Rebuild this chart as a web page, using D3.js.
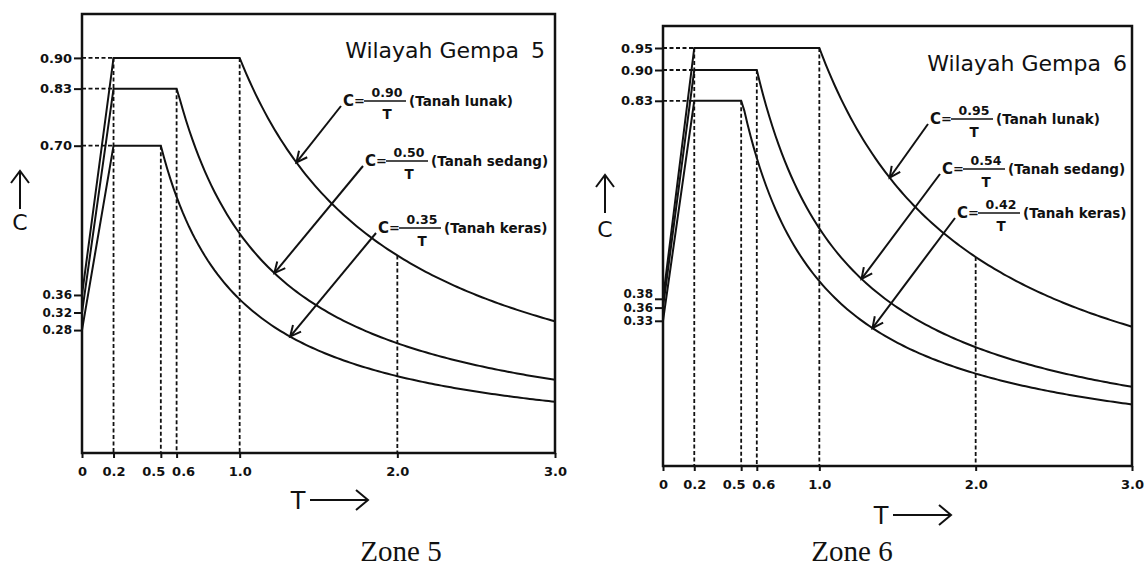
<!DOCTYPE html>
<html>
<head>
<meta charset="utf-8">
<script src="https://cdn.jsdelivr.net/npm/d3@7"></script>
<style>
  body { margin: 0; background: #fff; }
  svg text { fill: #111; }
</style>
</head>
<body>
<script>
var width = 1146, height = 569;

// values
var soils = ["Tanah lunak", "Tanah sedang", "Tanah keras"];
var zoneNames = ["5", "6"];
var peak5 = [0.90, 0.83, 0.70];
var start5 = [0.36, 0.32, 0.28];
var coef5 = [0.90, 0.50, 0.35];
var peak6 = [0.95, 0.90, 0.83];
var start6 = [0.38, 0.36, 0.33];
var coef6 = [0.95, 0.54, 0.42];
var Ta = 0.2;
var Tc = [1.0, 0.6, 0.5];
var Tmark = 2.0;
var Tmax = 3.0;
var xTicks = [0, 0.2, 0.5, 0.6, 1.0, 2.0, 3.0];
var xTickLabels = ["0", "0.2", "0.5", "0.6", "1.0", "2.0", "3.0"];
// T where each label arrow touches its curve
var arrowT5 = [1.36, 1.22, 1.32];
var arrowT6 = [1.45, 1.27, 1.34];

var svg = d3.select("body").append("svg")
    .attr("width", width)
    .attr("height", height);

var panels = [
  { zone: zoneNames[0], peak: peak5, start: start5, coef: coef5, arrowT: arrowT5,
    x0: 82, x1: 555, yb: 453, yt: 14,
    labels: [[261, 86], [283, 146], [296, 213]],
    title: [545, 58], caption: 401, cArrow: [20, 171, 230], tArrow: [298, 500] },
  { zone: zoneNames[1], peak: peak6, start: start6, coef: coef6, arrowT: arrowT6,
    x0: 663, x1: 1132, yb: 466, yt: 26,
    labels: [[267, 92], [279, 142], [294, 186]],
    title: [1127, 71], caption: 852, cArrow: [605, 175, 237], tArrow: [881, 515] }
];

var tickFont = "'DejaVu Sans', sans-serif";

panels.forEach(function(p) {
  var x = d3.scaleLinear().domain([0, Tmax]).range([p.x0, p.x1]);
  var y = d3.scaleLinear().domain([0, 1]).range([p.yb, p.yt]);
  var g = svg.append("g");

  // dashed guide lines
  var dash = g.append("g")
      .attr("stroke", "#111")
      .attr("stroke-width", 1.8)
      .attr("stroke-dasharray", "4,2.5")
      .attr("fill", "none");
  p.peak.forEach(function(v) {
    dash.append("line")
        .attr("x1", x(0)).attr("x2", x(Ta))
        .attr("y1", y(v)).attr("y2", y(v));
  });
  dash.append("line")
      .attr("x1", x(Ta)).attr("x2", x(Ta))
      .attr("y1", y(d3.max(p.peak))).attr("y2", y(0));
  Tc.forEach(function(t, i) {
    dash.append("line")
        .attr("x1", x(t)).attr("x2", x(t))
        .attr("y1", y(p.peak[i])).attr("y2", y(0));
  });
  dash.append("line")
      .attr("x1", x(Tmark)).attr("x2", x(Tmark))
      .attr("y1", y(p.coef[0] / Tmark)).attr("y2", y(0));

  // spectrum curves
  var line = d3.line().x(function(d) { return x(d[0]); }).y(function(d) { return y(d[1]); });
  p.coef.forEach(function(k, i) {
    var pts = [[0, p.start[i]], [Ta, p.peak[i]], [Tc[i], p.peak[i]]];
    d3.range(Tc[i] + 0.02, Tmax + 0.001, 0.02).forEach(function(t) {
      pts.push([t, k / t]);
    });
    g.append("path")
        .attr("d", line(pts))
        .attr("fill", "none")
        .attr("stroke", "#111")
        .attr("stroke-width", 2);
  });

  // axes
  var yAxis = d3.axisLeft(y)
      .tickValues(p.start.concat(p.peak))
      .tickFormat(d3.format(".2f"))
      .tickSize(8)
      .tickPadding(2);
  var ya = g.append("g").attr("transform", "translate(" + x(0) + ",0)").call(yAxis);
  var xAxis = d3.axisBottom(x)
      .tickValues(xTicks)
      .tickFormat(function(d, i) { return xTickLabels[i]; })
      .tickSize(5)
      .tickPadding(9);
  var xa = g.append("g").attr("transform", "translate(0," + y(0) + ")").call(xAxis);
  [ya, xa].forEach(function(a) {
    a.select(".domain").remove();
    a.selectAll("line").attr("stroke", "#111").attr("stroke-width", 2);
    a.selectAll("text")
        .attr("font-family", tickFont)
        .attr("font-weight", "bold")
        .attr("font-size", 13)
        .attr("fill", "#111");
  });
  xa.selectAll(".tick text")
      .attr("text-anchor", function(d) { return d === 0.5 ? "end" : d === 0.6 ? "start" : "middle"; })
      .attr("dx", function(d) { return d === 0.5 ? 4 : d === 0.6 ? -5 : 0; });

  // keep the crowded low labels apart (they sit almost on top of each other)
  var low = p.start.slice().sort(d3.ascending);
  var shift = {}, prev = null;
  low.forEach(function(v) {
    var py = y(v);
    if (prev !== null && prev - py < 13.5) py = prev - 13.5;
    shift[v] = py - y(v);
    prev = py;
  });
  ya.selectAll(".tick text")
      .attr("font-size", function(d) { return p.start.indexOf(d) >= 0 ? 12 : 13; })
      .attr("y", function(d) { return shift[d] || 0; });

  // frame
  g.append("rect")
      .attr("x", x(0)).attr("y", y(1))
      .attr("width", x(Tmax) - x(0)).attr("height", y(0) - y(1))
      .attr("fill", "none")
      .attr("stroke", "#111")
      .attr("stroke-width", 2.5);

  // title
  var title = g.append("text")
      .attr("x", p.title[0]).attr("y", p.title[1])
      .attr("text-anchor", "end")
      .attr("font-family", tickFont)
      .attr("font-size", 22);
  title.append("tspan").text("Wilayah Gempa");
  title.append("tspan").attr("dx", 12).text(p.zone);

  // formula labels with arrows
  p.coef.forEach(function(k, i) {
    var lx = p.x0 + p.labels[i][0], ly = p.yt + p.labels[i][1];
    var lab = g.append("g")
        .attr("transform", "translate(" + lx + "," + ly + ")")
        .attr("font-family", tickFont)
        .attr("font-weight", "bold");
    lab.append("text").attr("x", 0).attr("y", 6).attr("font-size", 15).text("C");
    lab.append("text").attr("x", 11).attr("y", 5).attr("font-size", 13).text("=");
    lab.append("line")
        .attr("x1", 21).attr("x2", 63).attr("y1", 1).attr("y2", 1)
        .attr("stroke", "#111").attr("stroke-width", 1.5);
    lab.append("text").attr("x", 44).attr("y", -3).attr("text-anchor", "middle")
        .attr("font-size", 12.5).text(d3.format(".2f")(k));
    lab.append("text").attr("x", 44).attr("y", 19).attr("text-anchor", "middle")
        .attr("font-size", 13.5).text("T");
    lab.append("text").attr("x", 66).attr("y", 6).attr("font-size", 13.5)
        .text("(" + soils[i] + ")");

    var t = p.arrowT[i];
    var tx = x(t), ty = y(k / t);
    var sx = lx - 2, sy = ly + 6;
    var ang = Math.atan2(ty - sy, tx - sx);
    var hl = 12, ha = 0.45;
    g.append("line")
        .attr("x1", sx).attr("y1", sy).attr("x2", tx).attr("y2", ty)
        .attr("stroke", "#111").attr("stroke-width", 2);
    g.append("polyline")
        .attr("points", [
          [tx - hl * Math.cos(ang - ha), ty - hl * Math.sin(ang - ha)],
          [tx, ty],
          [tx - hl * Math.cos(ang + ha), ty - hl * Math.sin(ang + ha)]
        ].map(function(q) { return q.join(","); }).join(" "))
        .attr("fill", "none").attr("stroke", "#111").attr("stroke-width", 2);
  });

  // axis names with arrows
  var cx = p.cArrow[0], ctop = p.cArrow[1];
  g.append("line").attr("x1", cx).attr("x2", cx).attr("y1", ctop).attr("y2", ctop + 38)
      .attr("stroke", "#111").attr("stroke-width", 2);
  g.append("polyline")
      .attr("points", (cx - 9) + "," + (ctop + 12) + " " + cx + "," + ctop + " " + (cx + 9) + "," + (ctop + 12))
      .attr("fill", "none").attr("stroke", "#111").attr("stroke-width", 2);
  g.append("text").attr("x", cx).attr("y", p.cArrow[2])
      .attr("text-anchor", "middle")
      .attr("font-family", tickFont).attr("font-size", 22)
      .text("C");

  var tx0 = p.tArrow[0], ty0 = p.tArrow[1];
  g.append("text").attr("x", tx0).attr("y", ty0 + 9)
      .attr("text-anchor", "middle")
      .attr("font-family", tickFont).attr("font-size", 24)
      .text("T");
  g.append("line").attr("x1", tx0 + 12).attr("x2", tx0 + 70).attr("y1", ty0).attr("y2", ty0)
      .attr("stroke", "#111").attr("stroke-width", 2);
  g.append("polyline")
      .attr("points", (tx0 + 58) + "," + (ty0 - 10) + " " + (tx0 + 70) + "," + ty0 + " " + (tx0 + 58) + "," + (ty0 + 10))
      .attr("fill", "none").attr("stroke", "#111").attr("stroke-width", 2);

  // caption
  svg.append("text")
      .attr("x", p.caption).attr("y", 561)
      .attr("text-anchor", "middle")
      .attr("font-family", "'Liberation Serif', 'Times New Roman', serif")
      .attr("font-size", 29)
      .text("Zone " + p.zone);
});
</script>
</body>
</html>
